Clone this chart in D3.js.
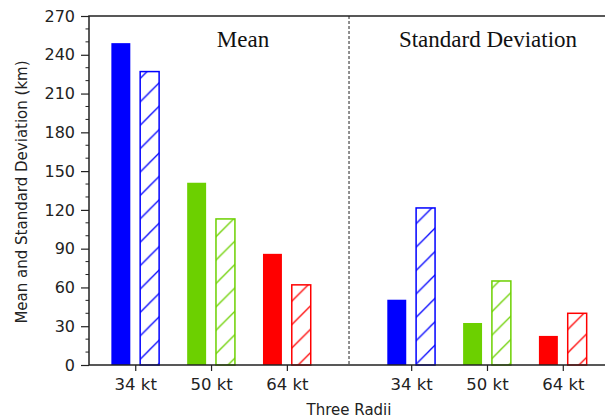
<!DOCTYPE html>
<html lang="en">
<head>
<meta charset="utf-8">
<title>Three Radii</title>
<script src="https://cdn.jsdelivr.net/npm/d3@7/dist/d3.min.js"></script>
<style>
  body { margin: 0; background: #fff; }
  .tick text { font-family: "DejaVu Sans", sans-serif; }
</style>
</head>
<body>
<div id="chart"></div>
<script>
// chart values
var radii = ["34 kt", "50 kt", "64 kt"];
var colors = ["#0000ff", "#6cd000", "#ff0000"];
var meanA = [249, 141, 86];
var meanB = [227, 113, 62];
var sdA = [50.5, 32.5, 22.5];
var sdB = [121.5, 65, 40];
var meanPos = [0, 1, 2];
var sdPos = [3.64, 4.64, 5.64];
var splitPos = 2.82;
var yTicks = [0, 30, 60, 90, 120, 150, 180, 210, 240, 270];

var W = 605, H = 419;
// plot box (window.top is taken, so use other names)
var pLeft = 89, pTop = 16, pBottom = 365, pRight = 606;

var svg = d3.select("#chart").append("svg")
    .attr("width", W)
    .attr("height", H);

var x = d3.scaleLinear().domain([-0.61, 6.21]).range([pLeft, pRight]);
var y = d3.scaleLinear().domain([0, 270]).range([pBottom, pTop]);
var barW = x(0.25) - x(0);
var off = 0.19;

// hatch patterns, one per colour
var defs = svg.append("defs");
colors.forEach(function(c, i) {
  var p = defs.append("pattern")
      .attr("id", "hatch" + i)
      .attr("patternUnits", "userSpaceOnUse")
      .attr("x", 8)
      .attr("width", 23.4)
      .attr("height", 23.4);
  p.append("path")
      .attr("d", "M0,23.4L23.4,0M-4,4L4,-4M19.4,27.4L27.4,19.4")
      .attr("stroke", c)
      .attr("stroke-width", 1.3);
});

function drawGroup(pos, solid, hatched) {
  svg.selectAll(null).data(solid).enter().append("rect")
      .attr("x", function(d, i) { return x(pos[i] - off) - barW / 2; })
      .attr("y", function(d) { return y(d); })
      .attr("width", barW)
      .attr("height", function(d) { return y(0) - y(d); })
      .attr("fill", function(d, i) { return colors[i]; });

  svg.selectAll(null).data(hatched).enter().append("rect")
      .attr("x", function(d, i) { return x(pos[i] + off) - barW / 2; })
      .attr("y", function(d) { return y(d); })
      .attr("width", barW)
      .attr("height", function(d) { return y(0) - y(d); })
      .attr("fill", function(d, i) { return "url(#hatch" + i + ")"; })
      .attr("stroke", function(d, i) { return colors[i]; })
      .attr("stroke-width", 1.5);
}

drawGroup(meanPos, meanA, meanB);
drawGroup(sdPos, sdA, sdB);

// dashed divider
svg.append("line")
    .attr("x1", x(splitPos)).attr("x2", x(splitPos))
    .attr("y1", pTop).attr("y2", pBottom)
    .attr("stroke", "#555")
    .attr("stroke-width", 1.3)
    .attr("stroke-dasharray", "3,2");

// axes
var yAxis = d3.axisLeft(y).tickValues(yTicks).tickSize(8).tickPadding(6);
var gy = svg.append("g").attr("transform", "translate(" + pLeft + ",0)").call(yAxis);
gy.select(".domain").remove();
gy.selectAll(".tick line").attr("stroke", "#222").attr("stroke-width", 1.2);
gy.selectAll(".tick text").attr("font-size", 16).attr("fill", "#222");

var minor = d3.range(0, 271, 10).filter(function(v) { return v % 30 != 0; });
svg.selectAll(null).data(minor).enter().append("line")
    .attr("x1", pLeft - 3.5).attr("x2", pLeft)
    .attr("y1", function(d) { return y(d); })
    .attr("y2", function(d) { return y(d); })
    .attr("stroke", "#222").attr("stroke-width", 1);

var xAxis = d3.axisBottom(x)
    .tickValues(meanPos.concat(sdPos))
    .tickFormat(function(d, i) { return radii[i % 3]; })
    .tickSize(6).tickPadding(7);
var gx = svg.append("g").attr("transform", "translate(0," + pBottom + ")").call(xAxis);
gx.select(".domain").remove();
gx.selectAll(".tick line").attr("stroke", "#222").attr("stroke-width", 1.2);
gx.selectAll(".tick text").attr("font-size", 16.5).attr("fill", "#222");

// frame
svg.append("path")
    .attr("d", "M" + pRight + "," + pTop + "H" + pLeft + "V" + pBottom + "H" + pRight)
    .attr("fill", "none")
    .attr("stroke", "#222")
    .attr("stroke-width", 1.5);

// panel titles
svg.append("text")
    .attr("x", 243).attr("y", 47)
    .attr("text-anchor", "middle")
    .attr("font-family", "Liberation Serif, serif")
    .attr("font-size", 23)
    .attr("fill", "#111")
    .text("Mean");
svg.append("text")
    .attr("x", 488).attr("y", 47)
    .attr("text-anchor", "middle")
    .attr("font-family", "Liberation Serif, serif")
    .attr("font-size", 23)
    .attr("fill", "#111")
    .text("Standard Deviation");

// axis labels
svg.append("text")
    .attr("transform", "translate(27,192) rotate(-90)")
    .attr("text-anchor", "middle")
    .attr("font-family", "DejaVu Sans, sans-serif")
    .attr("font-size", 15)
    .attr("fill", "#222")
    .text("Mean and Standard Deviation (km)");
svg.append("text")
    .attr("x", 349).attr("y", 415)
    .attr("text-anchor", "middle")
    .attr("font-family", "DejaVu Sans, sans-serif")
    .attr("font-size", 15)
    .attr("fill", "#222")
    .text("Three Radii");
</script>
</body>
</html>
